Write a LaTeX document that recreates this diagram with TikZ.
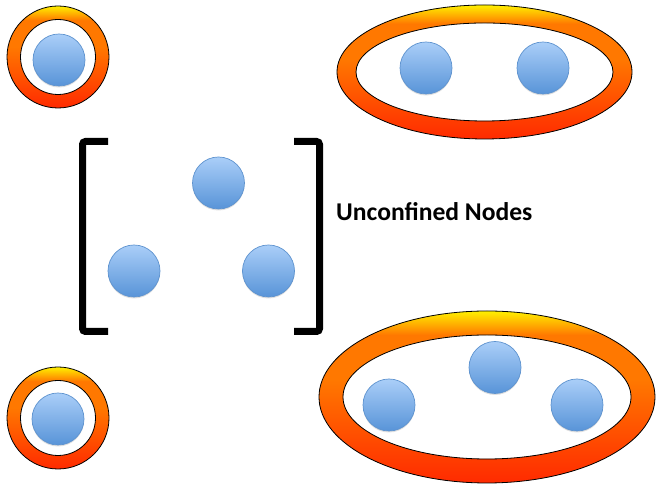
\documentclass[tikz,border=0pt]{standalone}
\usepackage{fontspec}
\setmainfont{Carlito}
\usetikzlibrary{shadows}

\definecolor{fireRed}{HTML}{FF2A00}
\definecolor{fireOrange}{HTML}{FF7800}
\definecolor{fireYellow}{HTML}{FFF000}
\definecolor{nodeDark}{HTML}{5894D8}
\definecolor{nodeLight}{HTML}{AACEF8}
\definecolor{nodeEdge}{HTML}{5E93CF}

% Fire-style gradient for the rings: yellow rim on top, orange body, red base
\pgfdeclareverticalshading{fire}{100bp}{
  color(0bp)=(fireRed);
  color(25bp)=(fireRed);
  color(55bp)=(fireOrange);
  color(68bp)=(fireOrange);
  color(75bp)=(fireYellow);
  color(100bp)=(fireYellow)}
% Soft blue gradient for the nodes
\pgfdeclareverticalshading{bluenode}{100bp}{
  color(0bp)=(nodeDark);
  color(25bp)=(nodeDark);
  color(75bp)=(nodeLight);
  color(100bp)=(nodeLight)}

\tikzset{
  blobnode/.style={circle, minimum size=52pt, inner sep=0pt,
    shading=bluenode, draw=nodeEdge, line width=0.7pt,
    drop shadow={opacity=0.25, shadow xshift=0pt, shadow yshift=-1.5pt}},
  ring/.style={shading=fire, even odd rule},
  ringedge/.style={draw=black, line width=0.8pt},
  bracket/.style={line width=7pt, rounded corners=3pt, line cap=butt},
  caption/.style={font=\bfseries\fontsize{25.6}{28}\selectfont, inner sep=0pt}
}

\begin{document}
\begin{tikzpicture}[x=1pt, y=1pt]
  \useasboundingbox (0,0) rectangle (656,486);

  % ---- single node, top left ----
  \shade[ring] (58,429) circle[radius=51] (58,429) circle[radius=37.5];
  \draw[ringedge] (58,429) circle[radius=51] (58,429) circle[radius=37.5];
  \node[blobnode] (tl) at (59,426) {};

  % ---- single node, bottom left ----
  \shade[ring] (58,68) circle[radius=51] (58,68) circle[radius=37.5];
  \draw[ringedge] (58,68) circle[radius=51] (58,68) circle[radius=37.5];
  \node[blobnode] (bl) at (58,67) {};

  % ---- pair of nodes, top right ----
  \shade[ring] (484.5,414) ellipse[x radius=147.5, y radius=67]
               (484.5,414) ellipse[x radius=128.5, y radius=49];
  \draw[ringedge] (484.5,414) ellipse[x radius=147.5, y radius=67]
                  (484.5,414) ellipse[x radius=128.5, y radius=49];
  \node[blobnode] (tr1) at (426,418) {};
  \node[blobnode] (tr2) at (543,418) {};

  % ---- triple of nodes, bottom right ----
  \shade[ring] (487,89) ellipse[x radius=168, y radius=86]
               (487,89) ellipse[x radius=144, y radius=62];
  \draw[ringedge] (487,89) ellipse[x radius=168, y radius=86]
                  (487,89) ellipse[x radius=144, y radius=62];
  \node[blobnode] (br1) at (389,81) {};
  \node[blobnode] (br2) at (495,118.5) {};
  \node[blobnode] (br3) at (577,81) {};

  % ---- unconfined nodes between brackets ----
  \draw[bracket] (108,344.5) -- (82.5,344.5) -- (82.5,154.5) -- (108,154.5);
  \draw[bracket] (294,344.5) -- (319.5,344.5) -- (319.5,154.5) -- (294,154.5);
  \node[blobnode] (u1) at (218.5,303) {};
  \node[blobnode] (u2) at (134,215) {};
  \node[blobnode] (u3) at (268.5,215) {};

  \node[caption, anchor=west] (label) at (336,274) {Unconfined Nodes};
\end{tikzpicture}
\end{document}
